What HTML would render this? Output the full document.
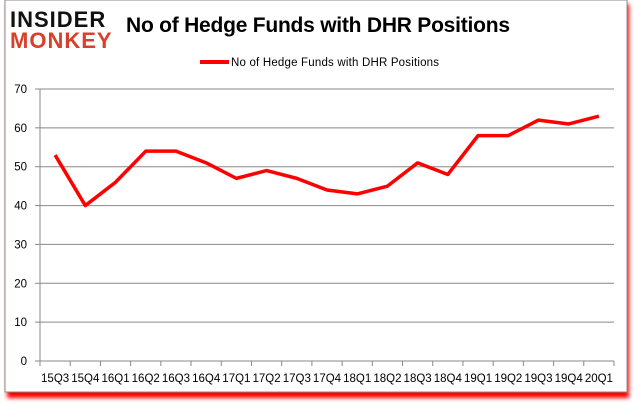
<!DOCTYPE html>
<html><head><meta charset="utf-8"><style>
body{margin:0;background:#fff;}
svg{display:block;font-family:"Liberation Sans",sans-serif;}
</style></head><body>
<svg width="635" height="405">
<defs><filter id="sh" x="-5%" y="-5%" width="110%" height="115%"><feGaussianBlur stdDeviation="2"/></filter></defs>
<rect x="7" y="4" width="622" height="394" fill="#f00" filter="url(#sh)"/>
<rect x="5" y="0" width="622" height="392" fill="#fff" stroke="#888"/>
<g>
<text x="10" y="27" font-size="22" font-weight="bold" fill="#111" letter-spacing="1">INSIDER</text>
<text x="10" y="48" font-size="22" font-weight="bold" fill="#d9402b" letter-spacing="1">MONKEY</text>
</g>
<text x="126" y="32" font-size="21" font-weight="bold" fill="#000" textLength="384">No of Hedge Funds with DHR Positions</text>
<line x1="200" y1="62" x2="229" y2="62" stroke="#f00" stroke-width="4"/>
<text x="231" y="66" font-size="11.5" fill="#000" textLength="208">No of Hedge Funds with DHR Positions</text>
<g id="grid"></g><g id="axes"></g><g id="series"></g>
</svg>
<script>
const categories=["15Q3","15Q4","16Q1","16Q2","16Q3","16Q4","17Q1","17Q2","17Q3","17Q4","18Q1","18Q2","18Q3","18Q4","19Q1","19Q2","19Q3","19Q4","20Q1"];
const values=[53,40,46,54,54,51,47,49,47,44,43,45,51,48,58,58,62,61,63];
const yTicks=[0,10,20,30,40,50,60,70];
const NS="http://www.w3.org/2000/svg";
const x0=40,x1=614,y0=361,y70=89;
const bw=(x1-x0)/categories.length;
const X=i=>x0+bw*(i+0.5);
const Y=v=>y0-(y0-y70)*v/70;
function mk(t,a,p){const e=document.createElementNS(NS,t);for(const k in a)e.setAttribute(k,a[k]);p.appendChild(e);return e;}
const grid=document.getElementById('grid'),axes=document.getElementById('axes'),series=document.getElementById('series');
yTicks.forEach(v=>{
 if(v>0){const l=mk('line',{x1:x0,x2:x1,y1:Y(v),y2:Y(v),stroke:'#888','stroke-width':1},grid);
 
 }
 const tk=mk('line',{x1:x0-5,x2:x0,y1:Y(v),y2:Y(v),stroke:'#888'},axes);
 
 
 const t=mk('text',{x:x0-13,y:Y(v)+4,'font-size':11.5,'text-anchor':'end',fill:'#000'},axes);t.textContent=v;
 
 
});
const ya=mk('line',{x1:x0,x2:x0,y1:y70,y2:y0,stroke:'#888'},axes);


const xa=mk('line',{x1:x0,x2:x1,y1:y0,y2:y0,stroke:'#888'},axes);


for(let i=0;i<=categories.length;i++){
 const tk=mk('line',{x1:x0+bw*i,x2:x0+bw*i,y1:y0,y2:y0+5,stroke:'#888'},axes);
 
 
}
categories.forEach((c,i)=>{
 const t=mk('text',{x:X(i),y:382,'font-size':11.5,'text-anchor':'middle',fill:'#000'},axes);t.textContent=c;
 
 
});
const pl=mk('polyline',{points:values.map((v,i)=>X(i)+','+Y(v)).join(' '),fill:'none',stroke:'#f00','stroke-width':3.5,'stroke-linejoin':'round'},series);


</script>
</body></html>
